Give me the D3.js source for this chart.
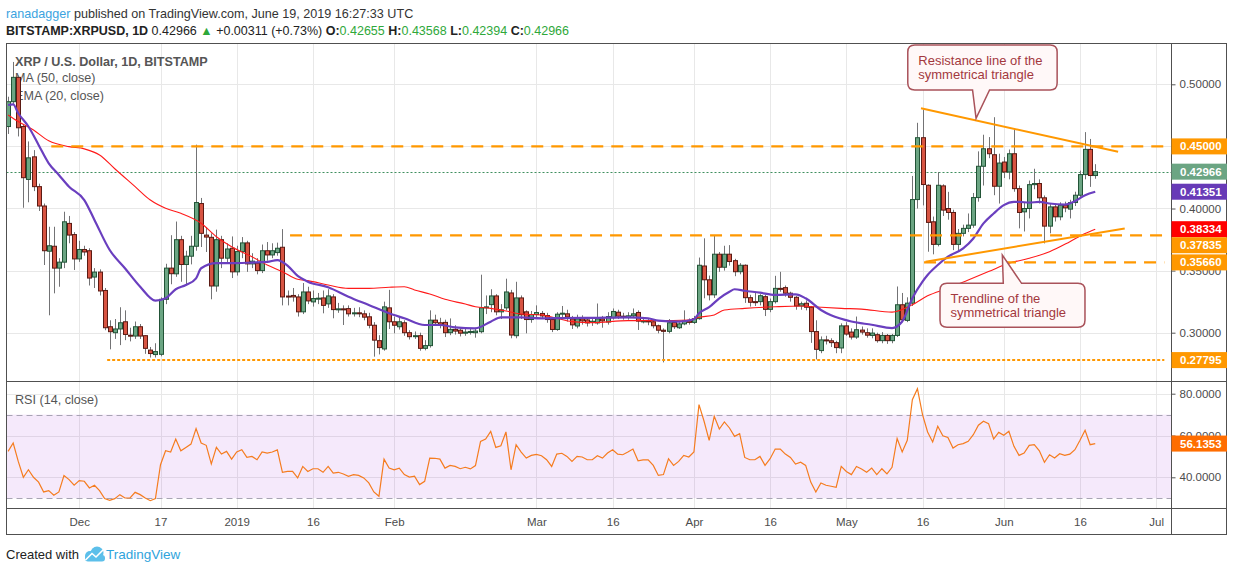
<!DOCTYPE html>
<html>
<head>
<meta charset="utf-8">
<script src="https://cdn.jsdelivr.net/npm/d3@7"></script>
<style>
body { margin: 0; background: #fff; }
svg { display: block; font-family: "Liberation Sans", Arial, sans-serif; }
</style>
</head>
<body>
<svg id="chart" width="1234" height="572"></svg>
<script>
// ---- data ----
var firstDay = '2018-11-17';   // date of candle index 0

var candleOpen = [
 0.466,0.486,0.5056,0.466,0.4234,0.4416,0.4176,0.402,0.3656,0.3696,
 0.352,0.3568,0.388,0.379,0.3594,0.367,0.366,0.3448,0.3488,0.334,
 0.3048,0.300,0.303,0.3088,0.298,0.2973,0.3048,0.2976,0.286,0.2824,
 0.2826,0.3269,0.352,0.3474,0.3749,0.3549,0.3616,0.3696,0.404,0.3786,
 0.3768,0.3376,0.3749,0.36,0.368,0.349,0.3653,0.3723,0.3554,0.356,
 0.35,0.366,0.3626,0.3645,0.3688,0.3295,0.33,0.3288,0.3168,0.3328,
 0.3248,0.3275,0.328,0.3232,0.3288,0.3186,0.3192,0.3194,0.3152,0.316,
 0.3152,0.3128,0.306,0.2936,0.2869,0.32,0.3088,0.3048,0.308,0.3,
 0.2968,0.2976,0.2874,0.2896,0.3101,0.308,0.3083,0.300,0.3027,0.302,
 0.2996,0.3005,0.3000,0.3008,0.32,0.3226,0.3296,0.3168,0.32,0.332,
 0.2976,0.328,0.3168,0.3106,0.3146,0.3155,0.3138,0.3106,0.3026,0.3149,
 0.3152,0.3111,0.3054,0.3111,0.3103,0.3083,0.3079,0.3111,0.3086,0.3121,
 0.3165,0.3133,0.3122,0.3136,0.3163,0.3093,0.3095,0.3088,0.3056,0.302,
 0.3011,0.3083,0.304,0.3071,0.3095,0.3083,0.3113,0.3537,0.3426,0.3305,
 0.3632,0.3527,0.3632,0.358,0.3491,0.3543,0.3282,0.325,0.325,0.329,
 0.3188,0.325,0.3357,0.3363,0.3318,0.3285,0.3215,0.3237,0.3205,0.3009,
 0.2856,0.2942,0.2935,0.292,0.2877,0.3055,0.3005,0.2965,0.3021,0.3,
 0.2978,0.2984,0.2936,0.2978,0.2936,0.2978,0.3225,0.3099,0.3238,0.4072,
 0.457,0.4187,0.3893,0.3711,0.4182,0.40,0.3968,0.3711,0.38,0.384,
 0.3866,0.4088,0.434,0.4481,0.4433,0.4179,0.4374,0.4294,0.4441,0.416,
 0.3973,0.40,0.4192,0.4201,0.4086,0.3858,0.4013,0.3933,0.4027,0.3995,
 0.4048,0.4107,0.4273,0.4476,0.42655
];
var candleHigh = [
 0.490,0.518,0.507,0.468,0.454,0.447,0.420,0.404,0.3853,0.3853,
 0.360,0.3974,0.394,0.381,0.374,0.370,0.368,0.352,0.351,0.336,
 0.310,0.311,0.3205,0.318,0.304,0.309,0.307,0.298,0.2885,0.2915,
 0.3285,0.3555,0.3785,0.3895,0.378,0.366,0.378,0.4514,0.4085,0.385,
 0.380,0.383,0.378,0.372,0.3775,0.370,0.377,0.374,0.364,0.360,
 0.371,0.373,0.372,0.3725,0.3834,0.334,0.336,0.331,0.340,0.337,
 0.334,0.332,0.334,0.335,0.331,0.324,0.322,0.322,0.320,0.3205,
 0.318,0.316,0.3085,0.298,0.325,0.3345,0.313,0.312,0.310,0.302,
 0.301,0.300,0.294,0.318,0.3145,0.312,0.3105,0.3115,0.306,0.3045,
 0.303,0.3035,0.304,0.3467,0.330,0.335,0.331,0.323,0.3435,0.3345,
 0.341,0.330,0.318,0.3175,0.322,0.3175,0.316,0.3125,0.3165,0.3215,
 0.3185,0.3135,0.3145,0.314,0.3125,0.3115,0.3235,0.3135,0.3165,0.3195,
 0.3185,0.316,0.3165,0.3195,0.318,0.312,0.311,0.310,0.3065,0.3035,
 0.311,0.3095,0.3085,0.318,0.3115,0.3135,0.3605,0.376,0.346,0.3787,
 0.365,0.370,0.3705,0.3595,0.356,0.355,0.3305,0.3325,0.331,0.3305,
 0.3275,0.3458,0.349,0.338,0.333,0.3295,0.325,0.326,0.3215,0.310,
 0.297,0.2975,0.2955,0.2935,0.3075,0.3085,0.3035,0.313,0.305,0.3035,
 0.3035,0.300,0.3005,0.299,0.299,0.3372,0.332,0.3285,0.4262,0.469,
 0.4797,0.4195,0.3935,0.4294,0.4195,0.4134,0.399,0.3835,0.387,0.396,
 0.4125,0.446,0.4594,0.4575,0.4735,0.4441,0.4415,0.4475,0.4642,0.4185,
 0.4045,0.4225,0.432,0.4235,0.4105,0.4035,0.4035,0.405,0.4055,0.407,
 0.4135,0.4305,0.4615,0.456,0.43568
];
var candleLow = [
 0.460,0.484,0.458,0.4006,0.405,0.414,0.398,0.3545,0.314,0.3317,
 0.337,0.352,0.372,0.3505,0.357,0.362,0.338,0.336,0.330,0.302,
 0.2866,0.295,0.290,0.294,0.293,0.295,0.295,0.283,0.280,0.280,
 0.281,0.323,0.339,0.345,0.341,0.338,0.355,0.366,0.369,0.365,
 0.3269,0.333,0.352,0.356,0.344,0.346,0.360,0.349,0.352,0.347,
 0.348,0.358,0.360,0.362,0.322,0.322,0.325,0.313,0.315,0.323,
 0.321,0.323,0.3156,0.320,0.3116,0.316,0.3062,0.313,0.313,0.3125,
 0.310,0.3035,0.2807,0.2825,0.2855,0.303,0.2995,0.3025,0.2975,0.2945,
 0.295,0.2855,0.2858,0.288,0.306,0.3035,0.2965,0.298,0.2985,0.297,
 0.2975,0.2985,0.296,0.2995,0.315,0.3165,0.314,0.311,0.318,0.2955,
 0.2955,0.311,0.2995,0.308,0.3125,0.311,0.308,0.3005,0.3015,0.312,
 0.309,0.303,0.3035,0.3065,0.305,0.3055,0.3065,0.304,0.3065,0.3105,
 0.311,0.3105,0.3105,0.3118,0.3022,0.3075,0.306,0.3035,0.2995,0.2761,
 0.2995,0.303,0.303,0.306,0.3065,0.307,0.3105,0.3277,0.326,0.328,
 0.349,0.350,0.354,0.3455,0.347,0.324,0.321,0.3215,0.322,0.3134,
 0.3165,0.3235,0.333,0.329,0.325,0.3185,0.3185,0.318,0.2918,0.2785,
 0.2835,0.2905,0.2885,0.2835,0.2835,0.2975,0.2945,0.295,0.2985,0.296,
 0.2955,0.292,0.2915,0.291,0.2915,0.2965,0.3085,0.3085,0.3215,0.400,
 0.4025,0.3652,0.3631,0.3695,0.394,0.391,0.3665,0.3652,0.3775,0.381,
 0.3845,0.4055,0.4185,0.4405,0.4107,0.404,0.4245,0.4235,0.4135,0.384,
 0.3815,0.392,0.4155,0.404,0.3719,0.380,0.3895,0.3905,0.397,0.392,
 0.402,0.4085,0.4235,0.4174,0.42394
];
var candleClose = [
 0.486,0.5056,0.465,0.4248,0.4408,0.4176,0.402,0.366,0.370,0.352,
 0.3568,0.3893,0.3786,0.3594,0.367,0.365,0.344,0.3488,0.3336,0.304,
 0.3008,0.303,0.308,0.2986,0.2978,0.3048,0.2973,0.2874,0.2832,0.2848,
 0.3269,0.352,0.3475,0.3749,0.3549,0.3616,0.3696,0.4048,0.38,0.377,
 0.3376,0.3749,0.36,0.3674,0.349,0.3653,0.3723,0.3554,0.3576,0.35,
 0.366,0.3626,0.366,0.368,0.3288,0.329,0.3288,0.3168,0.3328,0.3256,
 0.3275,0.3278,0.322,0.3296,0.3186,0.3192,0.319,0.3152,0.316,0.3152,
 0.3125,0.306,0.294,0.288,0.3208,0.3088,0.306,0.3088,0.3,0.2968,
 0.2976,0.2874,0.2896,0.3101,0.308,0.306,0.300,0.3027,0.3013,0.2996,
 0.3005,0.301,0.3013,0.32,0.3208,0.3296,0.3168,0.3184,0.3328,0.2981,
 0.328,0.3144,0.3106,0.3146,0.3162,0.3135,0.3106,0.3026,0.3149,0.3157,
 0.3126,0.3063,0.3111,0.3095,0.3079,0.3092,0.3111,0.3095,0.313,0.3171,
 0.3133,0.3125,0.3136,0.3152,0.3093,0.3095,0.3088,0.3056,0.302,0.3011,
 0.308,0.3048,0.3071,0.3095,0.3083,0.3113,0.3543,0.3426,0.3305,0.3632,
 0.3527,0.3632,0.3573,0.3491,0.3543,0.3282,0.3245,0.3248,0.3298,0.3188,
 0.325,0.3357,0.3352,0.3318,0.3285,0.3215,0.3233,0.3205,0.3009,0.2866,
 0.2942,0.2935,0.292,0.288,0.3055,0.2989,0.2965,0.3024,0.3005,0.298,
 0.2997,0.2936,0.2978,0.2936,0.2978,0.3225,0.3104,0.3238,0.4072,0.457,
 0.4193,0.3888,0.3711,0.4187,0.3987,0.3968,0.3711,0.38,0.384,0.3866,
 0.4088,0.434,0.4481,0.4441,0.4179,0.4366,0.4294,0.4441,0.416,0.3968,
 0.40,0.4192,0.4201,0.4086,0.3858,0.4013,0.3933,0.4027,0.4005,0.4048,
 0.4107,0.4273,0.4476,0.42655,0.42966
];

var rsiValues = [
 52.4,56.4,47.6,40.0,43.6,40.0,37.7,33.0,33.6,31.4,
 33.0,40.8,38.9,36.2,38.4,38.1,34.9,36.2,33.6,29.8,
 29.0,29.8,31.7,30.1,30.1,32.8,31.7,30.1,28.8,29.8,
 46.0,52.7,52.1,58.3,52.7,54.3,55.9,63.3,56.4,55.3,
 46.4,54.3,51.1,52.4,48.7,52.1,53.2,49.5,50.0,48.4,
 52.1,51.6,52.1,53.1,42.4,42.8,42.8,39.7,45.2,42.8,
 44.1,44.1,42.4,45.2,42.0,42.4,41.6,40.5,41.3,40.9,
 39.7,37.3,33.0,30.9,48.7,44.4,43.6,44.4,41.3,40.1,
 40.5,36.5,38.1,49.2,49.1,48.7,44.4,45.7,45.2,44.1,
 44.8,44.0,45.6,57.2,58.3,62.0,54.3,55.1,61.7,43.6,
 55.6,52.1,49.2,50.5,51.0,50.3,48.4,45.2,51.1,51.5,
 50.0,47.6,50.0,49.7,48.4,48.4,50.3,49.2,51.6,53.2,
 51.1,50.8,52.1,53.5,47.9,48.3,48.3,45.7,40.9,41.3,
 48.9,45.7,47.6,50.5,49.7,52.1,74.8,66.8,57.7,69.2,
 63.1,66.5,63.6,59.6,60.9,49.5,48.4,48.4,50.0,45.7,
 48.9,53.5,53.5,51.1,49.5,46.3,47.2,45.7,37.7,33.0,
 37.3,36.2,35.7,35.2,45.2,42.8,41.3,45.2,44.0,42.4,
 44.4,41.3,44.1,41.6,44.8,58.6,52.1,57.7,77.1,82.4,
 70.0,61.7,56.9,64.4,59.9,59.1,54.0,55.6,56.1,57.2,
 60.4,64.9,66.8,65.7,58.3,61.5,60.1,62.0,54.8,50.5,
 51.6,55.3,55.6,52.7,47.2,50.8,49.2,51.3,50.5,51.1,
 53.2,57.7,62.5,55.6,56.1
];

// MA(50) and EMA(20), read at candle indexes
var maIdx = [0,2,5,8,12,15,18,21,25,28,31,34,38,41,44,48,51,54,57,59,63,67,71,75,78,80,83,86,90,92,95,98,101,105,108,111,115,122,128,134,136,139,141,145,151,156,160,164,168,174,178,181,185,189,193,197,201,205,209,212,214];
var maVal = [0.4753,0.47,0.4632,0.4545,0.4498,0.448,0.4431,0.432,0.4176,0.4068,0.4002,0.3961,0.3881,0.3773,0.3692,0.3612,0.3545,0.3491,0.343,0.3419,0.3384,0.3357,0.3357,0.3366,0.337,0.3344,0.3312,0.3269,0.3231,0.3209,0.3196,0.3175,0.315,0.3143,0.3116,0.3089,0.3081,0.3097,0.3097,0.3102,0.3124,0.3143,0.3183,0.3196,0.3209,0.3215,0.3205,0.3196,0.319,0.3166,0.3225,0.3297,0.3358,0.3425,0.3492,0.3559,0.3599,0.3652,0.3733,0.3799,0.38334];
var emaIdx = [0,1,2,4,6,8,10,12,15,17,20,23,26,29,31,33,35,37,38,41,44,48,51,53,55,57,59,63,67,71,75,78,82,85,88,92,95,97,101,105,109,115,122,126,128,132,135,136,138,140,142,143,145,148,151,155,157,160,162,166,170,174,176,178,180,181,183,185,188,190,192,194,196,198,199,201,203,205,208,210,212,214];
var emaVal = [0.4833,0.4838,0.4767,0.466,0.4512,0.4364,0.427,0.4176,0.4068,0.3908,0.3666,0.3519,0.337,0.3258,0.3277,0.335,0.3384,0.3438,0.3519,0.356,0.356,0.3565,0.357,0.3585,0.354,0.3457,0.3411,0.3366,0.329,0.3223,0.3156,0.3116,0.3062,0.3062,0.3043,0.3035,0.3089,0.3124,0.3124,0.3116,0.3118,0.312,0.3124,0.3116,0.3097,0.3089,0.3108,0.3156,0.3205,0.3277,0.333,0.335,0.3338,0.3322,0.3304,0.3309,0.3277,0.3183,0.314,0.309,0.3064,0.3037,0.309,0.3278,0.3412,0.3465,0.3545,0.3612,0.3679,0.3759,0.388,0.396,0.4027,0.4053,0.4053,0.4048,0.4053,0.404,0.4032,0.4059,0.4107,0.41351];

var tickDates = ['2018-12-01','2018-12-17','2019-01-01','2019-01-16','2019-02-01','2019-03-01','2019-03-16','2019-04-01','2019-04-16','2019-05-01','2019-05-16','2019-06-01','2019-06-16','2019-07-01'];
var tickLabels = ['Dec','17','2019','16','Feb','Mar','16','Apr','16','May','16','Jun','16','Jul'];
var priceTicks = [0.30, 0.35, 0.40, 0.45, 0.50];
var rsiTicks = [40, 60, 80];

// drawn horizontal levels: price, first candle index
var levelPrice = [0.45, 0.37835, 0.35660];
var levelFrom = [8.5, 55.5, 180.3];
var floorPrice = 0.27795, floorFrom = 19.5;
var levelEnd = 227.6;

// triangle lines (candle index, price)
var resistIdx = [179.7, 218.5], resistVal = [0.4807, 0.4457];
var supportIdx = [180.6, 219.8], supportVal = [0.3572, 0.3839];

// price labels on the axis
var labelVals = [0.45, 0.42966, 0.41351, 0.38334, 0.37835, 0.35660, 0.27795];
var labelCols = ['#ff9800', '#6ba583', '#673ab7', '#ff0000', '#ff9800', '#ff9800', '#ff9800'];
var lastRsi = 56.1353;

// ---- layout ----
var L = 6.5, R = 1171.5, RR = 1226.5;
var mainTop = 43.5, mainBot = 381.5, rsiBot = 508.5, frameBot = 534.5;

var parseDay = d3.utcParse('%Y-%m-%d');
var day0 = parseDay(firstDay);
function dateOf(i) { return new Date(day0.getTime() + i * 864e5); }

var xScale = d3.scaleUtc()
    .domain([dateOf(0), dateOf(211)])
    .range([8.1, 1080]);
function xi(i) { return xScale(dateOf(i)); }

var yScale = d3.scaleLinear().domain([0.30, 0.50]).range([332.7, 84.3]);
var rScale = d3.scaleLinear().domain([40, 80]).range([477.3, 393.7]);

var svg = d3.select('#chart');

// header
var h1 = svg.append('text').attr('x', 6).attr('y', 18).attr('font-size', 12.6).attr('fill', '#333');
h1.append('tspan').attr('fill', '#3ba3df').text('ranadagger');
h1.append('tspan').text(' published on TradingView.com, June 19, 2019 16:27:33 UTC');

var h2 = svg.append('text').attr('x', 6).attr('y', 35).attr('font-size', 12.5).attr('fill', '#222');
var green = '#2fa83a';
h2.append('tspan').attr('font-weight', 'bold').text('BITSTAMP:XRPUSD, 1D');
h2.append('tspan').text(' 0.42966 ');
h2.append('tspan').attr('fill', green).text('\u25B2');
h2.append('tspan').text(' +0.00311 (+0.73%) ');
h2.append('tspan').attr('font-weight', 'bold').text('O:');
h2.append('tspan').attr('fill', green).text('0.42655 ');
h2.append('tspan').attr('font-weight', 'bold').text('H:');
h2.append('tspan').attr('fill', green).text('0.43568 ');
h2.append('tspan').attr('font-weight', 'bold').text('L:');
h2.append('tspan').attr('fill', green).text('0.42394 ');
h2.append('tspan').attr('font-weight', 'bold').text('C:');
h2.append('tspan').attr('fill', green).text('0.42966');

// clip paths
var defs = svg.append('defs');
defs.append('clipPath').attr('id', 'clipMain').append('rect')
    .attr('x', L).attr('y', mainTop).attr('width', R - L).attr('height', mainBot - mainTop);
defs.append('clipPath').attr('id', 'clipRsi').append('rect')
    .attr('x', L).attr('y', mainBot).attr('width', R - L).attr('height', rsiBot - mainBot);

var tickDatesP = tickDates.map(parseDay);

// grid
var grid = svg.append('g').attr('stroke', '#e8e8e8').attr('stroke-width', 1);
tickDatesP.forEach(function(d) {
    var x = Math.round(xScale(d)) + 0.5;
    grid.append('line').attr('x1', x).attr('x2', x).attr('y1', mainTop).attr('y2', rsiBot);
});
priceTicks.forEach(function(p) {
    var y = Math.round(yScale(p)) + 0.5;
    grid.append('line').attr('x1', L).attr('x2', R).attr('y1', y).attr('y2', y);
});
rsiTicks.forEach(function(v) {
    var y = Math.round(rScale(v)) + 0.5;
    grid.append('line').attr('x1', L).attr('x2', R).attr('y1', y).attr('y2', y);
});

// RSI band
var rsiG = svg.append('g').attr('clip-path', 'url(#clipRsi)');
rsiG.append('rect').attr('x', L).attr('width', R - L)
    .attr('y', rScale(70)).attr('height', rScale(30) - rScale(70))
    .attr('fill', 'rgba(145,15,215,0.09)');
[70, 30].forEach(function(v) {
    rsiG.append('line').attr('x1', L).attr('x2', R)
        .attr('y1', Math.round(rScale(v)) + 0.5).attr('y2', Math.round(rScale(v)) + 0.5)
        .attr('stroke', '#a8a4b4').attr('stroke-dasharray', '6,4');
});
rsiG.append('path')
    .datum(rsiValues)
    .attr('fill', 'none').attr('stroke', '#f57c1f').attr('stroke-width', 1.2)
    .attr('d', d3.line().x(function(d, i) { return xi(i); }).y(function(d) { return rScale(d); }));

// legends
var legend = svg.append('g').attr('fill', '#555').attr('font-size', 12.6);
legend.append('text').attr('x', 15).attr('y', 66).attr('font-weight', 'bold').text('XRP / U.S. Dollar, 1D, BITSTAMP');
legend.append('text').attr('x', 15).attr('y', 82).text('MA (50, close)');
legend.append('text').attr('x', 15).attr('y', 100).text('EMA (20, close)');
legend.append('text').attr('x', 15).attr('y', 404).text('RSI (14, close)');

// main pane content
var mainG = svg.append('g').attr('clip-path', 'url(#clipMain)');

// current price line
mainG.append('line').attr('x1', L).attr('x2', R)
    .attr('y1', Math.round(yScale(0.42966)) + 0.5).attr('y2', Math.round(yScale(0.42966)) + 0.5)
    .attr('stroke', '#3f8f5e').attr('stroke-dasharray', '2,2');

// candles
var candles = mainG.append('g');
candleOpen.forEach(function(o, i) {
    var c = candleClose[i], up = c >= o;
    var xw = Math.round(xi(i)) + 0.5;
    candles.append('line').attr('x1', xw).attr('x2', xw)
        .attr('y1', yScale(candleHigh[i])).attr('y2', yScale(candleLow[i]))
        .attr('stroke', '#737375');
    var yT = yScale(Math.max(o, c)), yB = yScale(Math.min(o, c));
    candles.append('rect')
        .attr('x', xw - 2).attr('width', 4)
        .attr('y', yT).attr('height', Math.max(1, yB - yT))
        .attr('fill', up ? '#6ba583' : '#d75442')
        .attr('stroke', up ? '#225437' : '#5b1a13').attr('stroke-width', 1);
});

// moving averages
var idxLine = d3.line().curve(d3.curveMonotoneX)
    .x(function(d) { return xi(d[0]); }).y(function(d) { return yScale(d[1]); });
mainG.append('path').datum(d3.zip(maIdx, maVal))
    .attr('fill', 'none').attr('stroke', '#ff1a1a').attr('stroke-width', 1.1).attr('d', idxLine);
mainG.append('path').datum(d3.zip(emaIdx, emaVal))
    .attr('fill', 'none').attr('stroke', '#6a3fbf').attr('stroke-width', 2.2).attr('d', idxLine);

// levels
levelPrice.forEach(function(p, k) {
    mainG.append('line').attr('x1', xi(levelFrom[k])).attr('x2', xi(levelEnd))
        .attr('y1', yScale(p)).attr('y2', yScale(p))
        .attr('stroke', '#ff9800').attr('stroke-width', 2.4).attr('stroke-dasharray', '12,8');
});
mainG.append('line').attr('x1', xi(floorFrom)).attr('x2', xi(levelEnd))
    .attr('y1', yScale(floorPrice)).attr('y2', yScale(floorPrice))
    .attr('stroke', '#ff9800').attr('stroke-width', 2).attr('stroke-dasharray', '3,2');

// triangle
var ptLine = d3.line().x(function(d) { return xi(d[0]); }).y(function(d) { return yScale(d[1]); });
mainG.append('path').datum(d3.zip(resistIdx, resistVal))
    .attr('fill', 'none').attr('stroke', '#ff9800').attr('stroke-width', 2).attr('d', ptLine);
mainG.append('path').datum(d3.zip(supportIdx, supportVal))
    .attr('fill', 'none').attr('stroke', '#ff9800').attr('stroke-width', 2).attr('d', ptLine);

// callouts
function calloutPath(x0, y0, x1, y1, r, side, ta, tb, ax, ay) {
    var p = 'M' + (x0 + r) + ',' + y0;
    if (side === 'top') p += ' H' + ta + ' L' + ax + ',' + ay + ' L' + tb + ',' + y0;
    p += ' H' + (x1 - r) + ' Q' + x1 + ',' + y0 + ' ' + x1 + ',' + (y0 + r);
    p += ' V' + (y1 - r) + ' Q' + x1 + ',' + y1 + ' ' + (x1 - r) + ',' + y1;
    if (side === 'bottom') p += ' H' + tb + ' L' + ax + ',' + ay + ' L' + ta + ',' + y1;
    p += ' H' + (x0 + r) + ' Q' + x0 + ',' + y1 + ' ' + x0 + ',' + (y1 - r);
    p += ' V' + (y0 + r) + ' Q' + x0 + ',' + y0 + ' ' + (x0 + r) + ',' + y0 + ' Z';
    return p;
}
var callouts = [
    {l: 177.1, r: 206.5, t: 0.53164, b: 0.49541, side: 'bottom', ta: 189.85, tb: 193.2, ai: 190.54, ap: 0.47262,
     lines: ['Resistance line of the', 'symmetrical triangle']},
    {l: 183.44, r: 211.98, t: 0.33977, b: 0.30435, side: 'top', ta: 195.9, tb: 199.5, ai: 195.71, ap: 0.36256,
     lines: ['Trendline of the', 'symmetrical triangle']}
];
var calloutG = svg.append('g');
callouts.forEach(function(c) {
    var x0 = xi(c.l), x1 = xi(c.r), y0 = yScale(c.t), y1 = yScale(c.b);
    calloutG.append('path')
        .attr('d', calloutPath(x0, y0, x1, y1, 7, c.side, xi(c.ta), xi(c.tb), xi(c.ai), yScale(c.ap)))
        .attr('fill', '#fff8f8').attr('stroke', '#a9525a').attr('stroke-width', 1.5);
    c.lines.forEach(function(t, k) {
        calloutG.append('text').attr('x', x0 + 10.5).attr('y', y0 + 19.5 + k * 14.5)
            .attr('font-size', 13).attr('fill', '#a3383e').text(t);
    });
});

// axes
var axisCol = '#4c4c4c';
var yAxisG = svg.append('g').attr('transform', 'translate(' + R + ',0)')
    .call(d3.axisRight(yScale).tickValues(priceTicks).tickFormat(d3.format('.5f')).tickSize(4).tickPadding(4));
var rAxisG = svg.append('g').attr('transform', 'translate(' + R + ',0)')
    .call(d3.axisRight(rScale).tickValues(rsiTicks).tickFormat(d3.format('.4f')).tickSize(4).tickPadding(4));
var xAxisG = svg.append('g').attr('transform', 'translate(0,' + rsiBot + ')')
    .call(d3.axisBottom(xScale).tickValues(tickDatesP)
        .tickFormat(function(d, i) { return tickLabels[i]; }).tickSize(0).tickPadding(9));
[yAxisG, rAxisG, xAxisG].forEach(function(g) {
    g.select('.domain').remove();
    g.selectAll('text').attr('fill', axisCol).attr('font-size', 11.5)
        .attr('font-family', '"Liberation Sans", Arial, sans-serif');
    g.selectAll('line').attr('stroke', '#555');
});

// frame
var frame = svg.append('g').attr('stroke', '#505050').attr('fill', 'none').attr('stroke-width', 1);
frame.append('rect').attr('x', L).attr('y', mainTop).attr('width', RR - L).attr('height', frameBot - mainTop);
frame.append('line').attr('x1', L).attr('x2', RR).attr('y1', mainBot).attr('y2', mainBot);
frame.append('line').attr('x1', L).attr('x2', RR).attr('y1', rsiBot).attr('y2', rsiBot);
frame.append('line').attr('x1', R).attr('x2', R).attr('y1', mainTop).attr('y2', frameBot);

// axis value labels, pushed apart when they overlap
var boxH = 16;
var labels = labelVals.map(function(v, k) { return {v: v, col: labelCols[k], y: yScale(v)}; })
    .sort(function(a, b) { return a.y - b.y; });
for (var k = 1; k < labels.length; k++) {
    if (labels[k].y < labels[k - 1].y + boxH) labels[k].y = labels[k - 1].y + boxH;
}
var labG = svg.append('g');
function axisBox(y, col, txt) {
    labG.append('rect').attr('x', R).attr('y', y - boxH / 2).attr('width', RR - R + 0.5).attr('height', boxH).attr('fill', col);
    labG.append('text').attr('x', R + 8.5).attr('y', y + 4).attr('font-size', 11.5).attr('font-weight', 'bold')
        .attr('fill', '#fff').text(txt);
}
labels.forEach(function(l) { axisBox(l.y, l.col, d3.format('.5f')(l.v)); });
axisBox(rScale(lastRsi), '#ff6d00', d3.format('.4f')(lastRsi));

// footer
var foot = svg.append('g');
foot.append('text').attr('x', 6).attr('y', 559).attr('font-size', 13).attr('fill', '#222').text('Created with');
var logo = foot.append('g').attr('fill', '#5cbfea');
logo.append('circle').attr('cx', 90).attr('cy', 556).attr('r', 5);
logo.append('circle').attr('cx', 97).attr('cy', 553).attr('r', 6.5);
logo.append('rect').attr('x', 85).attr('y', 555).attr('width', 20).attr('height', 6.5).attr('rx', 3);
foot.append('path').attr('d', 'M85.5,560 L92,553.5 L96,557 L103,550').attr('fill', 'none')
    .attr('stroke', '#fff').attr('stroke-width', 1.6);
foot.append('text').attr('x', 106).attr('y', 559).attr('font-size', 13.5)
    .attr('fill', '#2fa4dc').text('TradingView');
</script>
</body>
</html>
